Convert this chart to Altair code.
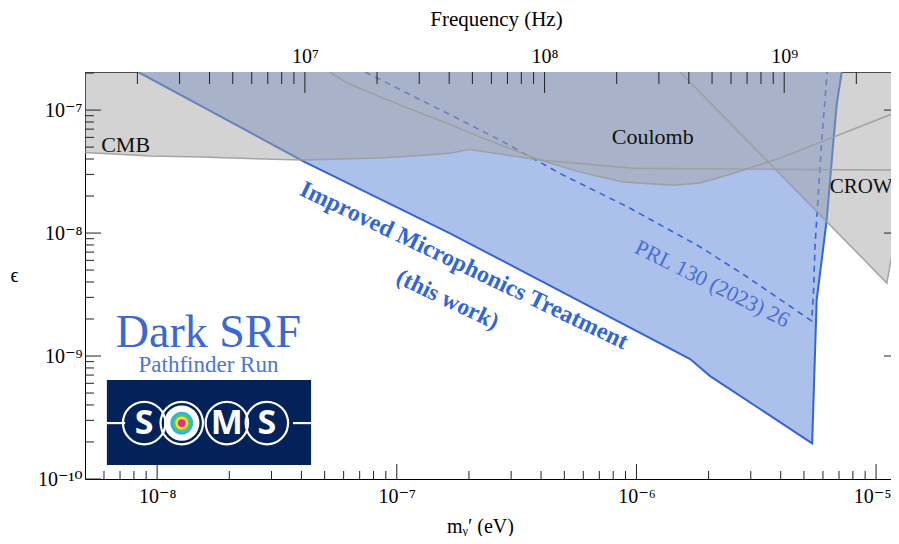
import altair as alt
import pandas as pd

# ---------------- data ----------------
EV_TO_HZ = 2.418e14
X_DOMAIN = [5.0e-9, 1.154e-5]          # dark-photon mass (eV)
Y_DOMAIN = [1e-10, 2.04e-7]            # kinetic mixing epsilon
F_DOMAIN = [X_DOMAIN[0] * EV_TO_HZ, X_DOMAIN[1] * EV_TO_HZ]
EPS_TOP = Y_DOMAIN[1]

# Improved microphonics treatment (this work) - solid boundary
this_m = [8.33e-9, 4.06e-8, 1.667e-7, 1.675e-6, 2.03e-6, 5.41e-6, 5.65e-6,
          5.93e-6, 6.22e-6, 6.43e-6, 6.64e-6, 6.86e-6, 7.19e-6]
this_eps = [2.04e-7, 3.85e-8, 9.95e-9, 9.46e-10, 6.87e-10, 1.95e-10, 2.85e-9,
            6.03e-9, 1.28e-8, 2.70e-8, 5.70e-8, 1.14e-7, 2.04e-7]

# PRL 130 (2023) 261801 - dashed boundary
prl_m = [7.38e-8, 1.667e-7, 2.70e-7, 4.80e-7, 9.14e-7, 1.84e-6, 2.89e-6,
         5.38e-6, 5.47e-6, 5.56e-6, 5.74e-6, 5.93e-6, 6.12e-6, 6.24e-6]
prl_eps = [2.04e-7, 9.17e-8, 5.70e-8, 3.05e-8, 1.64e-8, 7.74e-9, 4.41e-9,
           1.93e-9, 3.03e-9, 7.74e-9, 2.10e-8, 5.70e-8, 1.20e-7, 2.04e-7]

# CMB bound
cmb_m = [5.0e-9, 9.35e-9, 1.51e-8, 4.06e-8, 8.51e-8, 1.25e-7, 1.667e-7,
         2.02e-7, 3.96e-7, 9.68e-7, 2.98e-6, 1.222e-5]
cmb_eps = [4.51e-8, 4.23e-8, 4.15e-8, 3.92e-8, 4.07e-8, 4.27e-8, 4.45e-8,
           4.79e-8, 3.92e-8, 3.37e-8, 3.31e-8, 3.25e-8]

# Coulomb bound
coul_m = [5.27e-8, 6.21e-8, 8.51e-8, 1.17e-7, 1.62e-7, 2.23e-7, 3.96e-7,
          5.82e-7, 8.79e-7, 1.42e-6, 1.84e-6, 2.53e-6, 3.97e-6, 1.222e-5]
coul_eps = [2.04e-7, 1.66e-7, 1.28e-7, 1.0e-7, 7.84e-8, 6.03e-8, 3.92e-8,
            3.13e-8, 2.60e-8, 2.45e-8, 2.55e-8, 3.05e-8, 4.07e-8, 9.64e-8]

# CROWS bound
crows_m = [1.52e-6, 1.109e-5, 1.25e-5]
crows_eps = [2.04e-7, 3.92e-9, 1.46e-8]

# envelope of the excluded (grey) region
excl_m = [5.0e-9, 9.35e-9, 1.51e-8, 4.06e-8, 8.51e-8, 1.25e-7, 1.667e-7,
          2.02e-7, 3.96e-7, 5.82e-7, 8.79e-7, 1.42e-6, 1.84e-6, 2.53e-6,
          2.84e-6, 3.78e-6, 1.109e-5, 1.25e-5]
excl_eps = [4.51e-8, 4.23e-8, 4.15e-8, 3.92e-8, 4.07e-8, 4.27e-8, 4.45e-8,
            4.79e-8, 3.92e-8, 3.13e-8, 2.60e-8, 2.45e-8, 2.55e-8, 3.05e-8,
            3.31e-8, 3.34e-8, 3.92e-9, 1.46e-8]

# axis ticks
x_major = [1e-8, 1e-7, 1e-6, 1e-5]
x_minor = [k * 1e-9 for k in range(6, 10)] + [k * 10.0 ** e for e in (-8, -7, -6) for k in range(2, 10)]
y_major = [1e-10, 1e-9, 1e-8, 1e-7]
y_minor = [k * 10.0 ** e for e in (-10, -9, -8) for k in range(2, 10)] + [2e-7]
f_major = [1e7, 1e8, 1e9]
f_minor = [k * 10.0 ** e for e in (6, 7, 8) for k in range(2, 10)] + [2e9]

# ---------------- styling ----------------
W, H = 806, 407
SERIF = "'Liberation Serif', 'Times New Roman', 'DejaVu Serif', serif"
BLUE = "#3366d1"
BLUE_FILL = "#acc0ec"
GREY_FILL = "#a3a3a3"
GREY_LINE = "#9c9c9c"
NAVY = "#03225a"

SUP = {"-": "\u207b", "0": "\u2070", "1": "\u00b9", "2": "\u00b2", "3": "\u00b3",
       "4": "\u2074", "5": "\u2075", "6": "\u2076", "7": "\u2077", "8": "\u2078", "9": "\u2079"}


def pow_label_expr(exps):
    expr = "''"
    for e in exps:
        lab = "10" + "".join(SUP[c] for c in str(e))
        expr = f"round(log(datum.value)/LN10) == {e} ? '{lab}' : ({expr})"
    return expr


xscale = alt.Scale(type="log", domain=X_DOMAIN, nice=False)
yscale = alt.Scale(type="log", domain=Y_DOMAIN, nice=False)
fscale = alt.Scale(type="log", domain=F_DOMAIN, nice=False)

x_axis = alt.Axis(values=x_major, labelExpr=pow_label_expr([-8, -7, -6, -5]),
                  ticks=False, tickSize=0, grid=False, domainColor="#000", domainWidth=1,
                  labelFont=SERIF, labelFontSize=20, labelColor="#000", labelPadding=7,
                  labelOffset={"condition": {"test": "datum.value > 5e-6", "value": -4}, "value": 0},
                  title="m\u1d67\u2032 (eV)", titleFont=SERIF, titleFontSize=20,
                  titleFontWeight="normal", titleColor="#000", titleX=395, titleY=53,
                  titleBaseline="alphabetic", titleAlign="center")
y_axis = alt.Axis(values=y_major, labelExpr=pow_label_expr([-10, -9, -8, -7]),
                  ticks=False, tickSize=0, grid=False, domainColor="#000", domainWidth=1,
                  labelFont=SERIF, labelFontSize=20, labelColor="#000", labelPadding=3,
                  title="\u03f5", titleFont=SERIF, titleFontSize=20, titleFontWeight="normal",
                  titleColor="#000", titleAngle=0, titleX=-71, titleY=203,
                  titleAlign="center", titleBaseline="middle")
f_axis = alt.Axis(orient="top", values=f_major, labelExpr=pow_label_expr([7, 8, 9]),
                  ticks=False, tickSize=0, grid=False, domainColor="#000", domainWidth=1,
                  labelFont=SERIF, labelFontSize=20, labelColor="#000", labelPadding=6,
                  title="Frequency (Hz)", titleFont=SERIF, titleFontSize=21,
                  titleFontWeight="normal", titleColor="#000", titleX=411, titleY=-47,
                  titleBaseline="alphabetic", titleAlign="center")


def X(field="m"):
    return alt.X(f"{field}:Q", scale=xscale, axis=x_axis)


def Y(field="eps"):
    return alt.Y(f"{field}:Q", scale=yscale, axis=y_axis)


def curve(ms, eps):
    return pd.DataFrame({"m": ms, "eps": eps, "top": [EPS_TOP] * len(ms), "i": range(len(ms))})


this_df = curve(this_m, this_eps)
prl_df = curve(prl_m, prl_eps)
cmb_df = curve(cmb_m, cmb_eps)
coul_df = curve(coul_m, coul_eps)
crows_df = curve(crows_m, crows_eps)
excl_df = curve(excl_m, excl_eps)

blue_fill = alt.Chart(this_df).mark_area(color=BLUE_FILL, opacity=1, clip=True, orient="vertical").encode(
    x=X(), y=Y(), y2="top:Q")
blue_line = alt.Chart(this_df).mark_line(color=BLUE, strokeWidth=2, clip=True).encode(
    x=X(), y=Y(), order="i:Q")
prl_line = alt.Chart(prl_df).mark_line(color=BLUE, strokeWidth=1.6, strokeDash=[6, 5], clip=True).encode(
    x=X(), y=Y(), order="i:Q")
grey_fill = alt.Chart(excl_df).mark_area(color=GREY_FILL, opacity=0.48, clip=True, orient="vertical").encode(
    x=X(), y=Y(), y2="top:Q")
grey_lines = [
    alt.Chart(df).mark_line(color=GREY_LINE, strokeWidth=1.5, opacity=0.9, clip=True).encode(
        x=X(), y=Y(), order="i:Q")
    for df in (cmb_df, coul_df, crows_df)
]

# inward ticks
xt_major = alt.Chart(pd.DataFrame({"m": x_major})).mark_rule(color="#222", strokeWidth=1).encode(
    x=X(), y=alt.value(H - 15), y2=alt.value(H))
xt_minor = alt.Chart(pd.DataFrame({"m": x_minor})).mark_rule(color="#222", strokeWidth=1).encode(
    x=X(), y=alt.value(H - 8), y2=alt.value(H))
yt_major = alt.Chart(pd.DataFrame({"eps": y_major})).mark_rule(color="#222", strokeWidth=1).encode(
    y=Y(), x=alt.value(0), x2=alt.value(16))
yt_minor = alt.Chart(pd.DataFrame({"eps": y_minor})).mark_rule(color="#222", strokeWidth=1).encode(
    y=Y(), x=alt.value(0), x2=alt.value(9))
yt_right = alt.Chart(pd.DataFrame({"eps": y_major[1:]})).mark_rule(color="#222", strokeWidth=1).encode(
    y=Y(), x=alt.value(W - 7), x2=alt.value(W))


def label(text, m, eps, **kw):
    return alt.Chart(pd.DataFrame({"t": [text]})).mark_text(**kw).encode(
        x=alt.X(datum=m, scale=xscale, axis=x_axis, type="quantitative"),
        y=alt.Y(datum=eps, scale=yscale, axis=y_axis, type="quantitative"),
        text="t:N")


texts = [
    label("CMB", 5.84e-9, 4.53e-8, font=SERIF, fontSize=22, color="#111", align="left", baseline="alphabetic"),
    label("Coulomb", 1.17e-6, 5.3e-8, font=SERIF, fontSize=22, color="#111", align="center", baseline="alphabetic"),
    label("CROWS", 6.4e-6, 2.11e-8, font=SERIF, fontSize=21, color="#111", align="left", baseline="alphabetic"),
    label("Improved Microphonics Treatment", 1.851e-7, 4.82e-9, font=SERIF, fontSize=24, fontWeight="bold",
          color=BLUE, align="center", baseline="alphabetic", angle=25.5),
    label("(this work)", 1.582e-7, 2.55e-9, font=SERIF, fontSize=23.5, fontWeight="bold",
          color=BLUE, align="center", baseline="alphabetic", angle=25.5),
    label("PRL 130 (2023) 26", 2.012e-6, 3.44e-9, font=SERIF, fontSize=22, color="#4670cf",
          align="center", baseline="alphabetic", angle=26.5),
    label("Dark SRF", 1.637e-8, 1.19e-9, font=SERIF, fontSize=46, color="#3b68d2",
          align="center", baseline="alphabetic"),
    label("Pathfinder Run", 1.637e-8, 7.45e-10, font=SERIF, fontSize=23, color="#4a76d8",
          align="center", baseline="alphabetic"),
]

# SQMS logo
logo_y = 2.85e-10
logo_box = alt.Chart(pd.DataFrame({"t": ["logo"]})).mark_rect(color=NAVY).encode(
    x=alt.X(datum=6.17e-9, scale=xscale, axis=x_axis, type="quantitative"),
    x2=alt.X2(datum=4.39e-8),
    y=alt.Y(datum=6.38e-10, scale=yscale, axis=y_axis, type="quantitative"),
    y2=alt.Y2(datum=1.30e-10))
logo_pos = pd.DataFrame({"m": [8.826e-9, 1.267e-8, 1.954e-8, 2.87e-8], "eps": [logo_y] * 4,
                         "t": ["S", "", "M", "S"]})
logo_rings = alt.Chart(logo_pos).mark_point(shape="circle", filled=False, color="white",
                                            strokeWidth=2.2, size=1800, opacity=1).encode(x=X(), y=Y())
logo_links = alt.Chart(pd.DataFrame({"m": [6.17e-9, 7.35e-9, 3.69e-8, 4.39e-8],
                                     "eps": [logo_y] * 4, "g": ["a", "a", "b", "b"]})).mark_line(
    color="white", strokeWidth=2.2).encode(x=X(), y=Y(), detail="g:N")
logo_letters = alt.Chart(logo_pos).mark_text(font="Open Sans", fontWeight="bold", fontSize=34,
                                            color="white", baseline="middle", dy=1).encode(
    x=X(), y=Y(), text="t:N")
q_layers = [
    alt.Chart(pd.DataFrame({"m": [1.267e-8], "eps": [logo_y]})).mark_point(
        shape="circle", filled=True, color=c, size=s, opacity=1).encode(x=X(), y=Y())
    for c, s in (("white", 1250), ("#26b7e3", 520), ("#60c455", 320), ("#f5df3b", 170), ("#ea2f7c", 60))
]

main = alt.layer(blue_fill, blue_line, prl_line, grey_fill, *grey_lines,
                 xt_major, xt_minor, yt_major, yt_minor, yt_right,
                 *texts, logo_box, logo_rings, logo_links, *q_layers, logo_letters)

# top frequency axis
ft_major = alt.Chart(pd.DataFrame({"f": f_major})).mark_rule(color="#222", strokeWidth=1).encode(
    x=alt.X("f:Q", scale=fscale, axis=f_axis), y=alt.value(0), y2=alt.value(21))
ft_minor = alt.Chart(pd.DataFrame({"f": f_minor})).mark_rule(color="#222", strokeWidth=1).encode(
    x=alt.X("f:Q", scale=fscale, axis=f_axis), y=alt.value(0), y2=alt.value(12))
freq = alt.layer(ft_major, ft_minor)

chart = alt.layer(main, freq).resolve_scale(x="independent").properties(
    width=W, height=H,
    autosize=alt.AutoSizeParams(type="none"),
    padding={"left": 77, "top": 64, "right": 0, "bottom": 57},
    background="white",
).configure_view(stroke=None)

chart.save("out.html", embed_options={"renderer": "svg", "actions": False})
